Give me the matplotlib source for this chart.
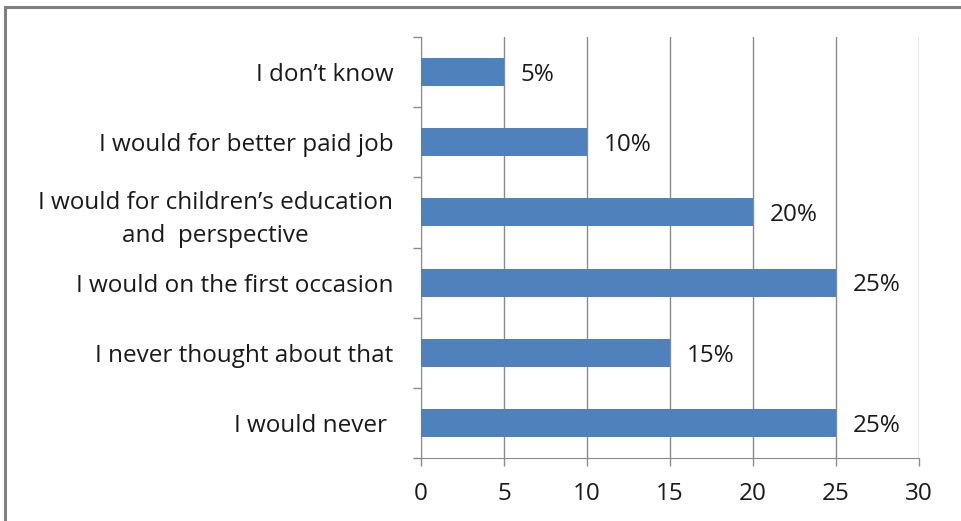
import matplotlib.pyplot as plt
from matplotlib.patches import Rectangle

plt.rcParams['font.family'] = ['Open Sans', 'DejaVu Sans']

answers = ["I would never ", "I never thought about that", "I would on the first occasion",
           "I would for children\u2019s education\nand  perspective",
           "I would for better paid job", "I don\u2019t know"]
shares = [25, 15, 25, 20, 10, 5]
x_ticks = [0, 5, 10, 15, 20, 25, 30]

fig = plt.figure(figsize=(9.62, 5.21), dpi=100)
ax = fig.add_axes([421 / 962, 1 - 458 / 521, (919 - 421) / 962, (458 - 37) / 521])

pos = list(range(len(answers)))
ax.barh(pos, shares, height=0.4, color="#4F81BD", zorder=3)
for p, v in zip(pos, shares):
    ax.text(v + 1.0, p - 0.04, f"{v}%", va="center", ha="left", fontsize=17.5, color="#1a1a1a")

ax.set_xlim(0, 30)
ax.set_ylim(-0.5, len(answers) - 0.5)
ax.set_xticks(x_ticks)
ax.tick_params(axis="x", length=6, width=1, color="#8c8c8c", labelsize=17.5, pad=11,
               labelcolor="#1a1a1a")
ax.xaxis.grid(True, color="#8c8c8c", linewidth=1, zorder=0)

# category ticks sit between bars, labels centred on bars
ax.set_yticks([p - 0.5 for p in pos] + [len(answers) - 0.5])
ax.set_yticklabels([])
ax.tick_params(axis="y", length=6, width=1, color="#8c8c8c")
ax.set_yticks(pos, minor=True)
ax.set_yticklabels(answers, minor=True, fontsize=17.5, color="#1a1a1a",
                   multialignment="center", linespacing=1.45)
ax.tick_params(axis="y", which="minor", length=0, pad=20)

for s in ["top", "right"]:
    ax.spines[s].set_visible(False)
for s in ["left", "bottom"]:
    ax.spines[s].set_color("#8c8c8c")

# outer chart frame
fig.patches.append(Rectangle((5 / 962, -0.1), 1.2, 1.1 - 7 / 521, transform=fig.transFigure,
                             fill=False, edgecolor="#808080", linewidth=2.2))

fig.savefig("out.png", dpi=100)
